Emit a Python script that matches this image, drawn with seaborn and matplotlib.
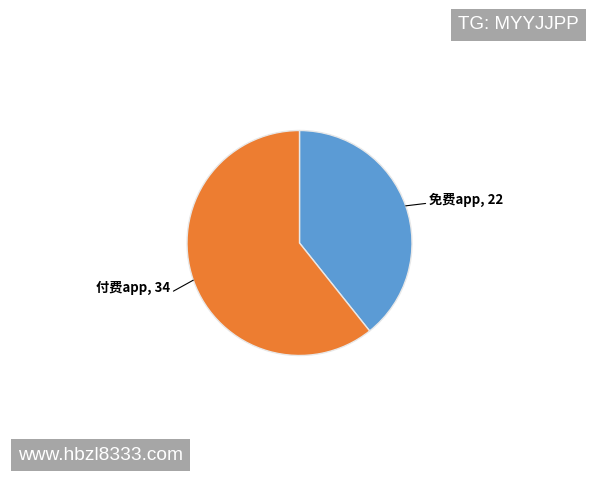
import matplotlib.pyplot as plt
import seaborn as sns
import numpy as np

labels = ["免费app", "付费app"]
values = [22, 34]
colors = ["#5B9BD5", "#ED7D31"]

sns.set_theme(style="white")
plt.rcParams['font.family'] = ['Noto Sans CJK SC', 'DejaVu Sans']

fig = plt.figure(figsize=(6, 4.8), dpi=100)
ax = fig.add_axes([0, 0, 1, 1])

wedges, _ = ax.pie(values, colors=colors, startangle=90, counterclock=False,
                   radius=1, wedgeprops=dict(edgecolor='#E8E8E8', linewidth=1))
ax.set_aspect('auto')
ax.set_xlim(-299.5 / 112.5, 300.5 / 112.5)
ax.set_ylim(-237 / 112.5, 243 / 112.5)
ax.axis('off')

# labels with leader lines
offsets = [(1.15, 0.38), (-1.15, -0.40)]
relpos = [(0, 0.3), (1, 0.15)]
for w, lab, v, (tx, ty), rp in zip(wedges, labels, values, offsets, relpos):
    ang = np.deg2rad((w.theta1 + w.theta2) / 2)
    px, py = np.cos(ang), np.sin(ang)
    ha = 'left' if tx > 0 else 'right'
    ax.annotate(f"{lab}, {v}", xy=(px, py), xytext=(tx, ty),
                ha=ha, va='center', fontsize=9.5, fontweight='bold', color='black',
                arrowprops=dict(arrowstyle='-', color='black', lw=0.8,
                                shrinkA=0, shrinkB=0, relpos=rp))

# watermarks
fig.text(0.965, 0.948, "TG: MYYJJPP", ha='right', va='center', color='white',
         fontsize=13.5, family='Liberation Sans',
         bbox=dict(boxstyle='square,pad=0.38', fc='#A6A6A6', ec='none'))
fig.text(0.03, 0.052, "www.hbzl8333.com", ha='left', va='center', color='white',
         fontsize=13.8, family='Liberation Sans',
         bbox=dict(boxstyle='square,pad=0.38', fc='#A6A6A6', ec='none'))

fig.savefig("out.png", dpi=100)
